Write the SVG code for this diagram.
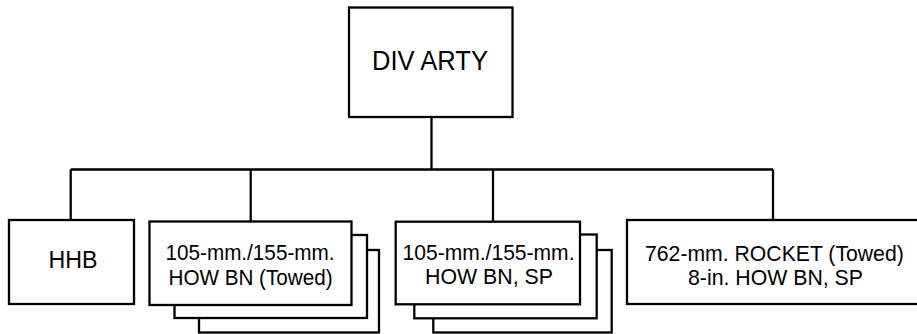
<svg xmlns="http://www.w3.org/2000/svg" width="917" height="334" viewBox="0 0 917 334">
<style>
.box{fill:#fff;stroke:#000;stroke-width:2.3}
.ln{fill:none;stroke:#000;stroke-width:2.3}
text{font-family:"Liberation Sans",Arial,Helvetica,sans-serif;font-size:22px;fill:#000;text-anchor:middle}
</style>
<rect width="917" height="334" fill="#fff"/>
<g id="connectors">
<path class="ln" d="M431.5,117 V169.5 M70.7,169.5 H773 M70.7,169.5 V220 M250.7,169.5 V221.5 M493,169.5 V221.5 M773,169.5 V220"/>
</g>
<g id="div-arty">
<rect class="box" x="349" y="7.5" width="163.5" height="109.5"/>
<text x="430" y="70" style="font-size:27px" textLength="116" lengthAdjust="spacingAndGlyphs">DIV ARTY</text>
</g>
<g id="hhb">
<rect class="box" x="9" y="220" width="125" height="84"/>
<text x="73" y="268.3" style="font-size:23px" textLength="49" lengthAdjust="spacingAndGlyphs">HHB</text>
</g>
<g id="how-towed">
<rect class="box" x="199" y="250" width="180" height="82.5"/>
<rect class="box" x="174.5" y="235" width="192.5" height="83"/>
<rect class="box" x="149.5" y="221.5" width="202" height="83.5"/>
<text x="250" y="259.5" textLength="169" lengthAdjust="spacingAndGlyphs">105-mm./155-mm.</text>
<text x="250.5" y="284.5" textLength="164" lengthAdjust="spacingAndGlyphs">HOW BN (Towed)</text>
</g>
<g id="how-sp">
<rect class="box" x="433.3" y="250" width="178.4" height="82.5"/>
<rect class="box" x="414.3" y="234.5" width="182.4" height="83.8"/>
<rect class="box" x="395.7" y="221.7" width="184.3" height="82.6"/>
<text x="488.5" y="259.5" textLength="172" lengthAdjust="spacingAndGlyphs">105-mm./155-mm.</text>
<text x="489" y="284.3" textLength="128" lengthAdjust="spacingAndGlyphs">HOW BN, SP</text>
</g>
<g id="rocket">
<rect class="box" x="627" y="220" width="293" height="84"/>
<text x="774.4" y="260.5" textLength="258.7" lengthAdjust="spacingAndGlyphs">762-mm. ROCKET (Towed)</text>
<text x="775.5" y="285" textLength="175" lengthAdjust="spacingAndGlyphs">8-in. HOW BN, SP</text>
</g>
</svg>
